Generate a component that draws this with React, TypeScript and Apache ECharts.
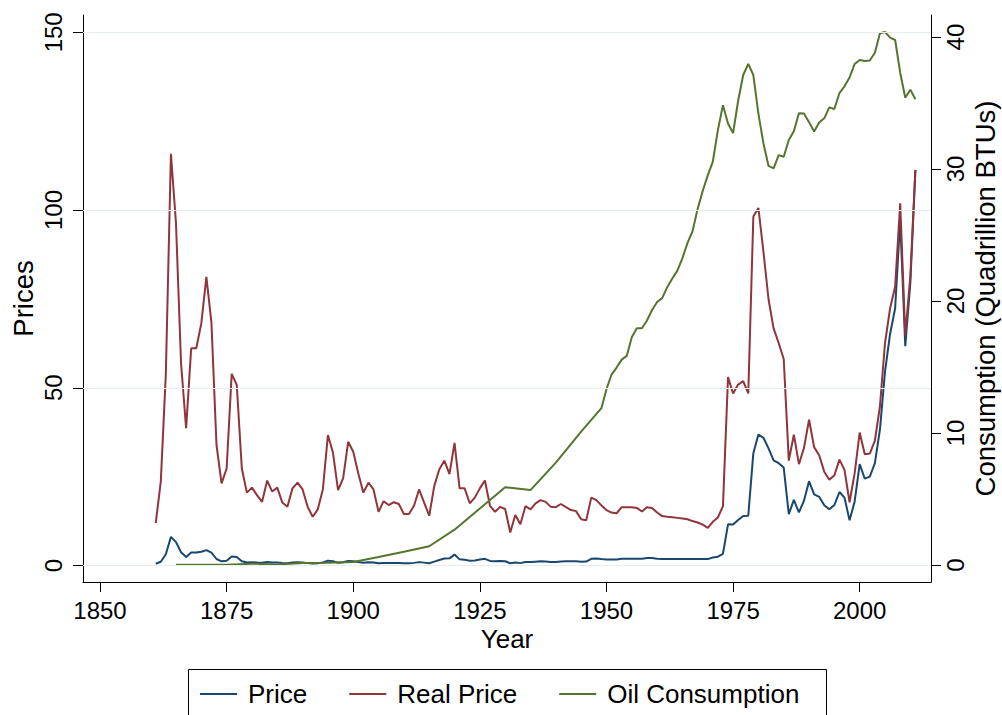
import React, { useEffect, useRef } from "react";
import * as echarts from "echarts";

const priceYears = [
  1861, 1862, 1863, 1864, 1865, 1866, 1867, 1868, 1869, 1870,
  1871, 1872, 1873, 1874, 1875, 1876, 1877, 1878, 1879, 1880,
  1881, 1882, 1883, 1884, 1885, 1886, 1887, 1888, 1889, 1890,
  1891, 1892, 1893, 1894, 1895, 1896, 1897, 1898, 1899, 1900,
  1901, 1902, 1903, 1904, 1905, 1906, 1907, 1908, 1909, 1910,
  1911, 1912, 1913, 1914, 1915, 1916, 1917, 1918, 1919, 1920,
  1921, 1922, 1923, 1924, 1925, 1926, 1927, 1928, 1929, 1930,
  1931, 1932, 1933, 1934, 1935, 1936, 1937, 1938, 1939, 1940,
  1941, 1942, 1943, 1944, 1945, 1946, 1947, 1948, 1949, 1950,
  1951, 1952, 1953, 1954, 1955, 1956, 1957, 1958, 1959, 1960,
  1961, 1962, 1963, 1964, 1965, 1966, 1967, 1968, 1969, 1970,
  1971, 1972, 1973, 1974, 1975, 1976, 1977, 1978, 1979, 1980,
  1981, 1982, 1983, 1984, 1985, 1986, 1987, 1988, 1989, 1990,
  1991, 1992, 1993, 1994, 1995, 1996, 1997, 1998, 1999, 2000,
  2001, 2002, 2003, 2004, 2005, 2006, 2007, 2008, 2009, 2010, 2011,
];

const nominalPrice = [
  0.49, 1.05, 3.15, 8.06, 6.59, 3.74, 2.41, 3.63, 3.64, 3.86,
  4.34, 3.64, 1.83, 1.17, 1.35, 2.56, 2.42, 1.19, 0.86, 0.95,
  0.86, 0.78, 1.0, 0.84, 0.88, 0.71, 0.67, 0.88, 0.94, 0.87,
  0.67, 0.56, 0.64, 0.84, 1.36, 1.18, 0.79, 0.91, 1.29, 1.19,
  0.96, 0.8, 0.94, 0.86, 0.62, 0.73, 0.72, 0.72, 0.7, 0.61,
  0.61, 0.74, 0.95, 0.81, 0.64, 1.1, 1.56, 1.98, 2.01, 3.07,
  1.73, 1.61, 1.34, 1.43, 1.68, 1.88, 1.3, 1.17, 1.27, 1.19,
  0.65, 0.87, 0.67, 1.0, 0.97, 1.09, 1.18, 1.13, 1.02, 1.02,
  1.14, 1.19, 1.2, 1.21, 1.05, 1.12, 1.9, 1.99, 1.8, 1.71,
  1.71, 1.71, 1.93, 1.93, 1.93, 1.93, 1.9, 2.08, 2.08, 1.9,
  1.8, 1.8, 1.8, 1.8, 1.8, 1.8, 1.8, 1.8, 1.8, 1.8,
  2.24, 2.48, 3.29, 11.58, 11.53, 12.8, 13.92, 14.02, 31.61, 36.83,
  35.93, 32.97, 29.55, 28.78, 27.56, 14.43, 18.44, 14.92, 18.23, 23.73,
  20.0, 19.32, 16.97, 15.82, 17.02, 20.67, 19.09, 12.72, 17.97, 28.5,
  24.44, 25.02, 28.83, 38.27, 54.52, 65.14, 72.39, 97.26, 61.67, 79.5, 111.26,
];

const realPrice = [
  11.9, 23.6, 54.0, 115.8, 96.3, 56.9, 38.6, 61.1, 61.1, 68.1,
  81.2, 68.3, 33.9, 23.1, 27.3, 53.9, 50.8, 27.3, 20.5, 21.9,
  19.8, 17.9, 23.9, 20.8, 21.9, 17.7, 16.5, 21.7, 23.3, 21.4,
  16.5, 13.7, 15.8, 21.4, 36.7, 31.7, 21.2, 24.5, 34.8, 32.0,
  25.9, 20.5, 23.3, 21.4, 15.1, 18.1, 17.0, 17.8, 17.3, 14.5,
  14.5, 16.8, 21.4, 17.7, 14.0, 22.4, 27.1, 29.5, 25.7, 34.5,
  21.7, 21.7, 17.5, 19.1, 21.7, 23.9, 16.8, 15.1, 16.5, 15.9,
  9.3, 14.2, 11.6, 16.7, 15.8, 17.5, 18.4, 17.9, 16.5, 16.4,
  17.3, 16.4, 15.6, 15.3, 13.0, 12.7, 19.1, 18.4, 16.9, 15.6,
  14.9, 14.7, 16.4, 16.4, 16.4, 16.2, 15.2, 16.4, 16.2, 14.9,
  13.9, 13.7, 13.6, 13.4, 13.2, 13.0, 12.5, 12.1, 11.5, 10.6,
  12.3, 13.5, 16.7, 53.0, 48.4, 50.9, 51.9, 48.4, 98.2, 100.6,
  88.2, 74.9, 66.7, 62.6, 58.1, 29.5, 36.8, 28.5, 33.1, 41.0,
  33.3, 31.0, 26.4, 24.1, 25.4, 29.8, 26.9, 17.8, 25.9, 37.4,
  31.3, 31.5, 35.1, 44.8, 62.6, 72.3, 78.5, 101.9, 64.7, 81.5, 111.3,
];

const consumptionYears = [
  1865, 1870, 1875, 1880, 1885, 1890, 1895, 1900, 1905, 1910,
  1915, 1920, 1925, 1930, 1935, 1940, 1945, 1949,
  1950, 1951, 1952, 1953, 1954, 1955, 1956, 1957, 1958, 1959,
  1960, 1961, 1962, 1963, 1964, 1965, 1966, 1967, 1968, 1969,
  1970, 1971, 1972, 1973, 1974, 1975, 1976, 1977, 1978, 1979,
  1980, 1981, 1982, 1983, 1984, 1985, 1986, 1987, 1988, 1989,
  1990, 1991, 1992, 1993, 1994, 1995, 1996, 1997, 1998, 1999,
  2000, 2001, 2002, 2003, 2004, 2005, 2006, 2007, 2008, 2009,
  2010, 2011,
];

const oilConsumption = [
  0.01, 0.011, 0.011, 0.096, 0.04, 0.156, 0.168, 0.229, 0.61, 1.007,
  1.418, 2.676, 4.28, 5.895, 5.675, 7.76, 10.11, 11.883,
  13.315, 14.428, 14.956, 15.556, 15.839, 17.255, 17.937, 17.932, 18.527, 19.323,
  19.919, 20.216, 21.049, 21.701, 22.301, 23.246, 24.401, 25.284, 26.979, 28.338,
  29.521, 30.561, 32.947, 34.84, 33.455, 32.731, 35.175, 37.122, 37.965, 37.123,
  34.202, 31.931, 30.232, 30.054, 31.052, 30.925, 32.198, 32.865, 34.222, 34.211,
  33.553, 32.845, 33.527, 33.841, 34.67, 34.553, 35.757, 36.266, 36.934, 37.96,
  38.262, 38.186, 38.224, 38.811, 40.292, 40.388, 39.958, 39.774, 37.28, 35.403,
  36.01, 35.283,
];

const yearTicks = [1850, 1875, 1900, 1925, 1950, 1975, 2000];
const priceTicks = [0, 50, 100, 150];
const consumptionTicks = [0, 10, 20, 30, 40];
const seriesNames = ["Price", "Real Price", "Oil Consumption"];
const seriesColors = ["#1a476f", "#90353b", "#55752f"];

const FONT = "'Liberation Sans', Arial, Helvetica, sans-serif";
const plain = (v: number) => String(v);

export default function App() {
  const ref = useRef<HTMLDivElement>(null);

  useEffect(() => {
    if (!ref.current) return;
    const chart = echarts.init(ref.current, null, { renderer: "svg" });

    const option: any = {
      animation: false,
      backgroundColor: "#ffffff",
      textStyle: { fontFamily: FONT },
      grid: {
        left: 83,
        right: 71,
        top: 15,
        bottom: 133,
        containLabel: false,
        outerBoundsMode: "none",
      },
      xAxis: {
        type: "value",
        min: 1846.64,
        max: 2014.08,
        name: "Year",
        nameLocation: "middle",
        nameGap: 44,
        nameMoveOverlap: false,
        nameTextStyle: { color: "#000", fontSize: 26, fontFamily: FONT },
        axisLine: { show: true, onZero: false, lineStyle: { color: "#000", width: 1 } },
        axisTick: { show: true, length: 10, customValues: yearTicks, lineStyle: { color: "#000", width: 1 } },
        axisLabel: { customValues: yearTicks, formatter: plain, margin: 16, color: "#000", fontSize: 24, fontFamily: FONT },
        splitLine: { show: false },
      },
      yAxis: [
        {
          type: "value",
          position: "left",
          min: -4.64,
          max: 154.87,
          name: "Prices",
          nameLocation: "middle",
          nameRotate: 90,
          nameGap: 46,
          nameMoveOverlap: false,
          nameTextStyle: { color: "#000", fontSize: 27.5, fontFamily: FONT },
          axisLine: { show: true, onZero: false, lineStyle: { color: "#000", width: 1 } },
          axisTick: { show: true, length: 10, customValues: priceTicks, lineStyle: { color: "#000", width: 1 } },
          axisLabel: { customValues: priceTicks, formatter: plain, rotate: 90, margin: 18, color: "#000", fontSize: 24, fontFamily: FONT },
          splitLine: { show: false },
        },
        {
          type: "value",
          position: "right",
          min: -1.29,
          max: 41.67,
          name: "Consumption (Quadrillion BTUs)",
          nameLocation: "middle",
          nameRotate: 90,
          nameGap: 41,
          nameMoveOverlap: false,
          nameTextStyle: { color: "#000", fontSize: 27.5, lineHeight: 27, fontFamily: FONT },
          axisLine: { show: true, onZero: false, lineStyle: { color: "#000", width: 1 } },
          axisTick: { show: true, length: 10, customValues: consumptionTicks, lineStyle: { color: "#000", width: 1 } },
          axisLabel: { customValues: consumptionTicks, formatter: plain, rotate: 90, margin: 12, color: "#000", fontSize: 24, fontFamily: FONT },
          splitLine: { show: false },
        },
      ],
      legend: {
        data: seriesNames,
        left: 200,
        top: 681,
        padding: 0,
        icon: "rect",
        itemWidth: 37,
        itemHeight: 2,
        itemGap: 42,
        textStyle: { color: "#000", fontSize: 26, fontFamily: FONT, padding: [0, 0, 0, 6] },
      },
      graphic: [
        {
          type: "rect",
          silent: true,
          shape: { x: 188.5, y: 669.5, width: 638, height: 80 },
          style: { fill: "none", stroke: "#000", lineWidth: 1 },
        },
      ],
      series: [
        {
          name: "__grid",
          type: "line",
          yAxisIndex: 0,
          data: [],
          silent: true,
          z: 1,
          markLine: {
            silent: true,
            symbol: "none",
            label: { show: false },
            lineStyle: { color: "#e4eeee", width: 1.2, type: "solid" },
            data: priceTicks.map((v) => ({ yAxis: v })),
          },
        },
        {
          name: seriesNames[0],
          type: "line",
          yAxisIndex: 0,
          z: 2,
          symbol: "none",
          data: priceYears.map((y, i) => [y, nominalPrice[i]]),
          lineStyle: { color: seriesColors[0], width: 2 },
          itemStyle: { color: seriesColors[0] },
        },
        {
          name: seriesNames[1],
          type: "line",
          yAxisIndex: 0,
          z: 3,
          symbol: "none",
          data: priceYears.map((y, i) => [y, realPrice[i]]),
          lineStyle: { color: seriesColors[1], width: 2 },
          itemStyle: { color: seriesColors[1] },
        },
        {
          name: seriesNames[2],
          type: "line",
          yAxisIndex: 1,
          z: 4,
          symbol: "none",
          data: consumptionYears.map((y, i) => [y, oilConsumption[i]]),
          lineStyle: { color: seriesColors[2], width: 2 },
          itemStyle: { color: seriesColors[2] },
        },
      ],
    };

    chart.setOption(option);
    return () => chart.dispose();
  }, []);

  return (
    <div
      ref={ref}
      style={{ position: "absolute", left: 0, top: 0, width: 1002, height: 715, background: "#fff" }}
    />
  );
}
